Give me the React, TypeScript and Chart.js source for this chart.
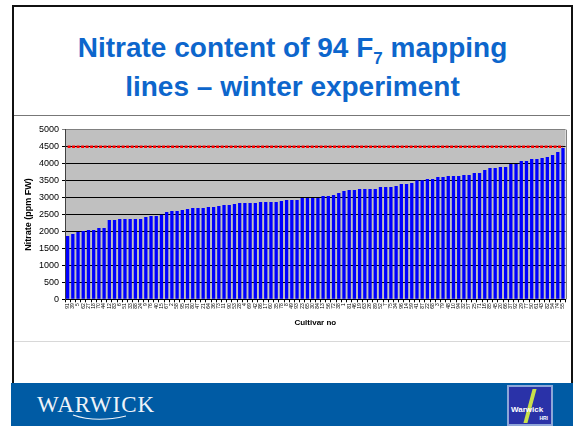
import React, { useEffect, useRef } from "react";
import { Chart, registerables } from "chart.js";

Chart.register(...registerables);

// Cultivar identifiers (category axis)
const cultivars = [
  "91", "39", "5", "62", "27", "18", "70", "44", "12", "83", "6", "51",
  "33", "88", "24", "9", "76", "40", "15", "67", "2", "58", "95", "31",
  "80", "47", "21", "64", "36", "73", "11", "90", "53", "28", "4", "69",
  "42", "86", "17", "60", "35", "78", "8", "49", "93", "23", "65", "30",
  "84", "13", "56", "72", "38", "1", "81", "46", "19", "63", "26", "89",
  "52", "7", "75", "34", "96", "14", "59", "41", "87", "22", "68", "3",
  "79", "48", "10", "94", "32", "57", "25", "71", "16", "85", "45", "20",
  "66", "37", "92", "29", "77", "50", "61", "43", "82", "54", "74", "55",
];

// Nitrate content (ppm FW) per cultivar, sorted ascending
const nitrate = [
  1866, 1925, 1984, 2013, 2043, 2043, 2102, 2102, 2338, 2338, 2368, 2368,
  2368, 2368, 2368, 2427, 2456, 2456, 2496, 2574, 2604, 2604, 2633, 2663,
  2692, 2692, 2692, 2721, 2721, 2751, 2780, 2780, 2810, 2839, 2839, 2839,
  2839, 2869, 2869, 2869, 2869, 2898, 2927, 2927, 2927, 2986, 2986, 2986,
  2986, 3045, 3045, 3075, 3134, 3193, 3222, 3222, 3252, 3252, 3252, 3252,
  3311, 3311, 3311, 3340, 3399, 3399, 3429, 3508, 3508, 3547, 3547, 3606,
  3606, 3635, 3635, 3635, 3665, 3665, 3724, 3724, 3812, 3871, 3871, 3901,
  3901, 3989, 3989, 4077, 4077, 4136, 4136, 4166, 4195, 4254, 4342, 4460,
];

// Reference limit line
const limitValue = 4500;
const limitLine = cultivars.map(() => limitValue);

const yTicks = [0, 500, 1000, 1500, 2000, 2500, 3000, 3500, 4000, 4500, 5000];

const FONT = "'Liberation Sans', Arial, Helvetica, sans-serif";

const plotBg = {
  id: "plotBg",
  beforeDraw(chart: any) {
    const { ctx, chartArea: a } = chart;
    ctx.save();
    ctx.fillStyle = "#C0C0C0";
    ctx.fillRect(a.left, a.top, a.right - a.left, a.bottom - a.top);
    ctx.restore();
  },
  afterDraw(chart: any) {
    const { ctx, chartArea: a } = chart;
    ctx.save();
    ctx.strokeStyle = "#808080";
    ctx.lineWidth = 1;
    ctx.beginPath();
    ctx.moveTo(Math.round(a.right) + 0.5, a.top);
    ctx.lineTo(Math.round(a.right) + 0.5, a.bottom);
    ctx.stroke();
    ctx.restore();
  },
};

function NitrateChart() {
  const ref = useRef<HTMLCanvasElement | null>(null);
  useEffect(() => {
    if (!ref.current) return;
    const chart = new Chart(ref.current, {
      type: "bar",
      data: {
        labels: cultivars,
        datasets: [
          {
            type: "line",
            data: limitLine,
            borderColor: "#FF0000",
            borderWidth: 2.5,
            borderDash: [3, 1.5],
            pointRadius: 0,
            fill: false,
            order: 0,
          } as any,
          {
            type: "bar",
            data: nitrate,
            backgroundColor: "#0000FF",
            borderWidth: 0,
            barPercentage: 0.63,
            categoryPercentage: 1,
            order: 1,
          },
        ],
      },
      options: {
        animation: false,
        responsive: false,
        devicePixelRatio: 1,
        layout: { padding: { top: 12.7, right: 4, left: 5.6, bottom: 8.2 } },
        plugins: {
          legend: { display: false },
          tooltip: { enabled: false },
        },
        scales: {
          x: {
            offset: true,
            grid: {
              display: true,
              drawOnChartArea: false,
              drawTicks: true,
              tickLength: 3,
              color: "#000",
              offset: true,
            },
            border: { display: true, color: "#000", width: 1 },
            ticks: {
              autoSkip: false,
              maxRotation: 90,
              minRotation: 90,
              padding: 1,
              color: "#000",
              font: { family: FONT, size: 5 },
            },
            title: {
              display: true,
              text: "Cultivar no",
              color: "#000",
              font: { family: FONT, size: 8, weight: "bold" },
            },
            afterFit(s: any) {
              s.height = 32.5;
            },
          },
          y: {
            min: 0,
            max: 5000,
            afterBuildTicks(s: any) {
              s.ticks = yTicks.map((v) => ({ value: v }));
            },
            grid: {
              color: (c: any) => (c.tick && c.tick.value === 5000 ? "#808080" : "#000"),
              lineWidth: 1,
              tickLength: 3,
              drawTicks: true,
            },
            border: { display: true, color: "#404040", width: 1 },
            ticks: {
              padding: 3,
              color: "#000",
              font: { family: FONT, size: 9 },
              callback: (v: any) => String(v),
            },
            title: {
              display: true,
              text: "Nitrate (ppm FW)",
              color: "#000",
              font: { family: FONT, size: 9, weight: "bold" },
            },
            afterFit(s: any) {
              s.width = 45.4;
            },
          },
        },
      },
      plugins: [plotBg],
    });
    return () => chart.destroy();
  }, []);
  return <canvas ref={ref} width={556} height={223} style={{ display: "block", width: 556, height: 223 }} />;
}

export default function App() {
  return (
    <div
      style={{
        position: "fixed",
        left: 0,
        top: 0,
        width: 573,
        height: 426,
        background: "#fff",
        overflow: "hidden",
        fontFamily: FONT,
      }}
    >
      {/* slide frame */}
      <div
        style={{
          position: "absolute",
          left: 12,
          top: 5,
          width: 557,
          height: 390,
          border: "2px solid #111",
          boxSizing: "content-box",
        }}
      />
      {/* title */}
      <div
        style={{
          position: "absolute",
          left: 14,
          top: 30,
          width: 557,
          textAlign: "center",
          color: "#0D66CC",
          fontWeight: "bold",
          fontSize: 28,
          lineHeight: "35px",
          fontFamily: FONT,
        }}
      >
        <div>
          Nitrate content of 94 F<span style={{ fontSize: 17, position: "relative", top: 7 }}>7</span> mapping
        </div>
        <div>lines – winter experiment</div>
      </div>
      {/* chart box */}
      <div
        style={{
          position: "absolute",
          left: 14,
          top: 115,
          width: 556,
          height: 225,
          borderTop: "1px solid #777",
          borderBottom: "1px solid #d8d8d8",
          background: "#fff",
        }}
      >
        <div style={{ position: "absolute", left: 0, top: 1 }}>
          <NitrateChart />
        </div>
      </div>
      {/* footer band */}
      <div
        style={{
          position: "absolute",
          left: 11,
          top: 383,
          width: 562,
          height: 43,
          background: "#005BA4",
        }}
      >
        <div
          style={{
            position: "absolute",
            left: 26,
            top: 10,
            color: "#EEF3F9",
            fontFamily: "'Liberation Serif', 'Times New Roman', serif",
            fontSize: 23,
            letterSpacing: 1,
            lineHeight: "24px",
          }}
        >
          WARWICK
        </div>
        <svg style={{ position: "absolute", left: 60, top: 30 }} width={60} height={10}>
          <path d="M2 2 Q 25 10 55 3" stroke="#EEF3F9" strokeWidth={1.2} fill="none" />
        </svg>
        <div
          style={{
            position: "absolute",
            left: 496,
            top: 2,
            width: 46,
            height: 41,
            border: "2px solid #8EA6D8",
            background: "#2A32A8",
            boxSizing: "border-box",
            overflow: "hidden",
          }}
        >
          <div
            style={{
              position: "absolute",
              left: 19,
              top: 2,
              width: 4,
              height: 34,
              background: "#C8E04A",
              transform: "skewX(-15deg)",
            }}
          />
          <div
            style={{
              position: "absolute",
              left: 2,
              top: 18,
              color: "#fff",
              fontSize: 8,
              fontWeight: "bold",
              fontFamily: FONT,
            }}
          >
            Warwick
          </div>
          <div
            style={{
              position: "absolute",
              right: 3,
              top: 28,
              color: "#fff",
              fontSize: 5,
              fontWeight: "bold",
              fontFamily: FONT,
            }}
          >
            HRI
          </div>
        </div>
      </div>
    </div>
  );
}
